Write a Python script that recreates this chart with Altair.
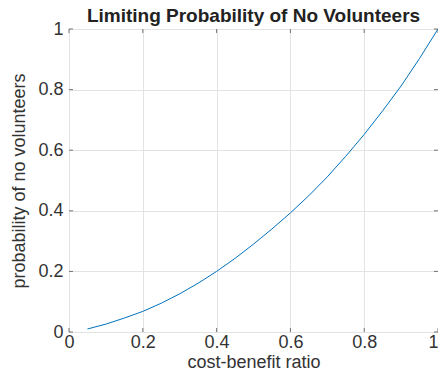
import altair as alt
import pandas as pd

# Data
ratio = [0.05, 0.10, 0.15, 0.20, 0.25, 0.30, 0.35, 0.40, 0.45, 0.50,
         0.55, 0.60, 0.65, 0.70, 0.75, 0.80, 0.85, 0.90, 0.95, 1.00]
prob = [0.010, 0.026, 0.046, 0.068, 0.095, 0.126, 0.161, 0.200, 0.243, 0.290,
        0.340, 0.393, 0.450, 0.512, 0.580, 0.652, 0.730, 0.812, 0.903, 1.000]
tick_vals = [0, 0.2, 0.4, 0.6, 0.8, 1]

W, H = 369, 303
FONT = "Liberation Sans"
TXT = "#333333"

df = pd.DataFrame({"ratio": ratio, "prob": prob})
ticks = pd.DataFrame({"t": tick_vals})

xs = alt.Scale(domain=[0, 1], nice=False)
ys = alt.Scale(domain=[0, 1], nice=False)

line = alt.Chart(df).mark_line(color="#0072BD", strokeWidth=1).encode(
    x=alt.X("ratio:Q", scale=xs,
            axis=alt.Axis(values=tick_vals, title="cost-benefit ratio",
                          format="~g", grid=True, gridColor="#e3e3e3",
                          tickSize=0, domain=False, labelPadding=1,
                          labelAlign=alt.expr("datum.value >= 1 ? 'right' : 'center'"),
                          labelFontSize=18, labelColor=TXT, labelFont=FONT,
                          titleFontSize=18, titleColor=TXT, titleFont=FONT,
                          titleFontWeight="normal", titlePadding=2)),
    y=alt.Y("prob:Q", scale=ys,
            axis=alt.Axis(values=tick_vals, title="probability of no volunteers",
                          format="~g", grid=True, gridColor="#e3e3e3",
                          tickSize=0, domain=False, labelPadding=6,
                          labelFontSize=18, labelColor=TXT, labelFont=FONT,
                          titleFontSize=18, titleColor=TXT, titleFont=FONT,
                          titleFontWeight="normal", titlePadding=9)),
)

tick_len = 4
tk = dict(color="#555555", strokeWidth=0.8)
xt_bottom = alt.Chart(ticks).mark_rule(**tk).encode(
    x=alt.X("t:Q", scale=xs), y=alt.value(H), y2=alt.value(H - tick_len))
xt_top = alt.Chart(ticks).mark_rule(**tk).encode(
    x=alt.X("t:Q", scale=xs), y=alt.value(0), y2=alt.value(tick_len))
yt_left = alt.Chart(ticks).mark_rule(**tk).encode(
    y=alt.Y("t:Q", scale=ys), x=alt.value(0), x2=alt.value(tick_len))
yt_right = alt.Chart(ticks).mark_rule(**tk).encode(
    y=alt.Y("t:Q", scale=ys), x=alt.value(W), x2=alt.value(W - tick_len))

chart = alt.layer(line, xt_bottom, xt_top, yt_left, yt_right).properties(
    width=W, height=H,
    title=alt.TitleParams("Limiting Probability of No Volunteers",
                          font=FONT, fontSize=19, fontWeight="bold",
                          color="#222222", anchor="middle", offset=0, dy=6),
    autosize=alt.AutoSizeParams(type="none"),
    padding={"left": 61, "top": 21, "right": 0, "bottom": 38},
).configure_view(stroke="#555555", strokeWidth=1).configure(background="white")

chart.save("out.html", embed_options={"renderer": "svg", "actions": False})
